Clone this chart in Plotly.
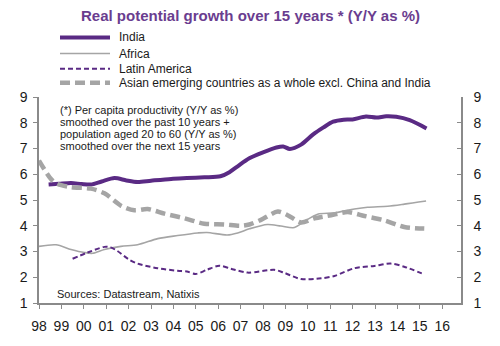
import plotly.graph_objects as go

# --- data -------------------------------------------------------------
india_x = [1998.43, 1998.9, 1999.43, 1999.9, 2000.32, 2000.8, 2001.37, 2001.9, 2002.4,
           2003.0, 2003.9, 2004.6, 2005.38, 2006.1, 2006.5, 2006.87, 2007.39, 2008.0,
           2008.6, 2008.9, 2009.2, 2009.7, 2010.24, 2010.7, 2011.13, 2011.6, 2012.0,
           2012.6, 2013.06, 2013.5, 2013.95, 2014.55, 2015.3]
india_y = [5.60, 5.63, 5.66, 5.62, 5.60, 5.72, 5.85, 5.76, 5.70,
           5.75, 5.82, 5.85, 5.88, 5.92, 6.08, 6.31, 6.62, 6.85,
           7.04, 7.08, 6.98, 7.15, 7.55, 7.82, 8.04, 8.12, 8.13,
           8.24, 8.20, 8.25, 8.23, 8.10, 7.78]

africa_x = [1998.0, 1998.76, 1999.43, 2000.03, 2000.4, 2000.92, 2001.66, 2002.4, 2003.3,
            2004.19, 2005.08, 2005.5, 2006.4, 2006.87, 2007.39, 2008.2, 2008.8, 2009.4,
            2009.85, 2010.44, 2011.19, 2012.08, 2012.67, 2013.57, 2014.31, 2015.28]
africa_y = [3.20, 3.26, 3.08, 2.96, 2.93, 3.08, 3.20, 3.26, 3.50,
            3.62, 3.72, 3.74, 3.64, 3.72, 3.88, 4.05, 3.99, 3.93,
            4.17, 4.45, 4.50, 4.65, 4.72, 4.76, 4.84, 4.96]

latam_x = [1999.5, 2000.17, 2000.92, 2001.2, 2001.5, 2002.0, 2002.4, 2003.3, 2004.19,
           2004.6, 2005.0, 2005.5, 2006.05, 2006.57, 2007.32, 2008.5, 2008.95, 2009.7,
           2010.6, 2011.19, 2012.08, 2012.97, 2013.7, 2014.3, 2015.2]
latam_y = [2.72, 2.96, 3.18, 3.16, 3.02, 2.70, 2.53, 2.35, 2.25,
           2.22, 2.13, 2.29, 2.45, 2.33, 2.18, 2.29, 2.17, 1.93,
           1.96, 2.05, 2.35, 2.44, 2.53, 2.41, 2.11]

asia_x = [1998.0, 1998.54, 1998.83, 1999.43, 2000.32, 2000.92, 2001.66, 2002.26, 2002.85,
          2003.6, 2004.49, 2005.38, 2006.27, 2007.0, 2007.39, 2007.91, 2008.66, 2009.1,
          2009.7, 2010.3, 2011.04, 2011.78, 2012.53, 2013.42, 2014.31, 2015.2]
asia_y = [6.53, 5.81, 5.62, 5.50, 5.44, 5.26, 4.78, 4.60, 4.65,
          4.47, 4.29, 4.08, 4.05, 4.00, 4.05, 4.23, 4.55, 4.41,
          4.13, 4.29, 4.41, 4.53, 4.38, 4.21, 3.95, 3.89]

tick_years = list(range(1998, 2017))
tick_labels = ["98", "99", "00", "01", "02", "03", "04", "05", "06", "07",
               "08", "09", "10", "11", "12", "13", "14", "15", "16"]
y_ticks = [1, 2, 3, 4, 5, 6, 7, 8, 9]

series_names = ["India", "Africa", "Latin America",
                "Asian emerging countries as a whole excl. China and India"]

# --- styling ----------------------------------------------------------
PURPLE = "#5a2a84"
GREY = "#a5a5a5"
AXIS = "#8a8a8a"
FONT = "Liberation Sans, Arial, sans-serif"

styles = [
    dict(color=PURPLE, width=4, dash="solid"),
    dict(color=GREY, width=1.6, dash="solid"),
    dict(color=PURPLE, width=2, dash="5px,3px"),
    dict(color=GREY, width=4.5, dash="10px,5px"),
]

W, H = 500, 346
L, R, T, B = 39, 461, 97, 315


def px_x(x):
    return (x - L) / (R - L)


def px_y(y):
    return (B - y) / (B - T)


fig = go.Figure()
data = [(india_x, india_y), (africa_x, africa_y), (latam_x, latam_y), (asia_x, asia_y)]
for i, ((xs, ys), name, st) in enumerate(zip(data, series_names, styles)):
    fig.add_trace(go.Scatter(
        x=xs, y=ys, name=name, mode="lines",
        line=dict(color=st["color"], width=st["width"], dash=st["dash"],
                  shape="spline", smoothing=0.8),
        yaxis="y2" if i == 3 else "y",
        showlegend=False, hoverinfo="skip",
    ))

# legend drawn by hand: sample line + label per series
legend_rows = [34, 51, 67, 82]
shapes = []
annotations = []
for name, st, ry in zip(series_names, styles, legend_rows):
    shapes.append(dict(type="line", xref="paper", yref="paper",
                       x0=px_x(60), x1=px_x(110), y0=px_y(ry), y1=px_y(ry),
                       line=dict(color=st["color"], width=st["width"], dash=st["dash"])))
    annotations.append(dict(xref="paper", yref="paper", x=px_x(117), y=px_y(ry),
                            xanchor="left", yanchor="middle", showarrow=False,
                            text=name, font=dict(family=FONT, size=12, color="#1a1a1a")))

# title
annotations.append(dict(xref="paper", yref="paper", x=0.5, y=px_y(11),
                        xanchor="center", yanchor="middle", showarrow=False,
                        text="<b>Real potential growth over 15 years * (Y/Y as %)</b>",
                        font=dict(family=FONT, size=15, color="#6a3d8f")))

# footnote box text
note_lines = ["(*) Per capita productivity (Y/Y as %)",
              "smoothed over the past 10 years +",
              "population aged 20 to 60 (Y/Y as %)",
              "smoothed over the next 15 years"]
for k, line in enumerate(note_lines):
    annotations.append(dict(xref="paper", yref="paper", x=px_x(58), y=px_y(111 + k * 12.7),
                            xanchor="left", yanchor="middle", showarrow=False,
                            text=line, font=dict(family=FONT, size=11, color="#1a1a1a")))

annotations.append(dict(xref="paper", yref="paper", x=px_x(55), y=px_y(305),
                        xanchor="left", yanchor="middle", showarrow=False,
                        text="Sources: Datastream, Natixis",
                        font=dict(family=FONT, size=11, color="#1a1a1a")))

axis_common = dict(showgrid=False, zeroline=False, showline=True, linecolor=AXIS,
                   linewidth=1.5, tickcolor=AXIS, ticklen=4, tickwidth=1.2,
                   tickfont=dict(family=FONT, size=14, color="#1a1a1a"))

fig.update_layout(
    width=W, height=H,
    margin=dict(l=L, r=W - R, t=T, b=H - B, pad=0),
    paper_bgcolor="white", plot_bgcolor="white",
    showlegend=False,
    xaxis=dict(range=[1998, 1998 + (R - L) / 22.4], tickvals=tick_years, ticktext=tick_labels,
               ticks="outside", ticklabelstandoff=5, **axis_common),
    yaxis=dict(range=[1, 9], tickvals=y_ticks, ticks="outside", side="left",
               ticklabelstandoff=3, **axis_common),
    yaxis2=dict(range=[1, 9], tickvals=y_ticks, ticks="inside", side="right",
                overlaying="y", ticklabelstandoff=8, **axis_common),
    shapes=shapes,
    annotations=annotations,
)

fig.write_html("out.html")
